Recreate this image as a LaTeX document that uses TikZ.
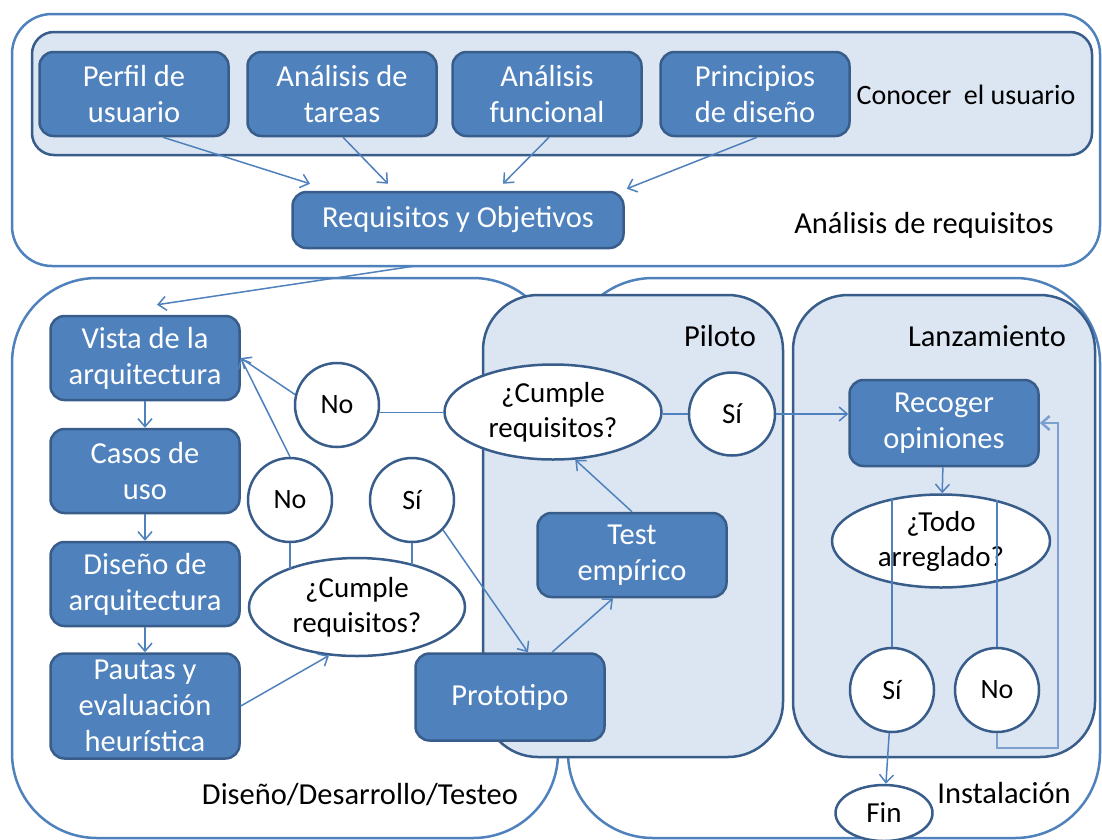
\documentclass[tikz,border=0pt]{standalone}
\usepackage{fontspec}
\setmainfont{Carlito}
\usetikzlibrary{arrows.meta,positioning,shapes.geometric}
\definecolor{boxblue}{HTML}{4F81BD}
\definecolor{boxedge}{HTML}{385D8A}
\definecolor{paleblue}{HTML}{DCE6F2}
\tikzset{
	stage/.style={draw=boxblue, line width=2.5pt, fill=white},
	phase/.style={draw=boxedge, line width=2.5pt, fill=paleblue},
	task/.style={draw=boxedge, line width=2.5pt, fill=boxblue, rounded corners=14pt, text=white, align=center, minimum width=189pt, minimum height=84pt, inner sep=1pt, font=\fontsize{30.5}{36}\selectfont},
	answer/.style={draw=boxedge, line width=2.5pt, fill=white, circle, minimum size=84pt, inner sep=0pt, font=\fontsize{28}{34}\selectfont},
	query/.style={draw=boxedge, line width=2.5pt, fill=white, ellipse, align=center, inner sep=0pt, font=\fontsize{29}{35}\selectfont},
	tag/.style={font=\fontsize{30.5}{36}\selectfont},
	link/.style={draw=boxblue, line width=1.5pt},
	arr/.style={link, -{Straight Barb[length=8pt,width=14pt]}},
}

\begin{document}
\begin{tikzpicture}[x=1pt,y=-1pt]
	\useasboundingbox (0,0) rectangle (1102,839);
	
	% etapas
	\draw[stage, rounded corners=40pt] (12,14) rectangle (1100,266);
	\draw[stage, rounded corners=85pt] (12,278) rectangle (558,838);
	\draw[stage, rounded corners=85pt] (568,278) rectangle (1100,838);
	\draw[phase, rounded corners=22pt] (32,32) rectangle (1092,155);
	\draw[phase, rounded corners=55pt] (483,295) rectangle (783,757);
	\draw[phase, rounded corners=55pt] (793,295) rectangle (1095,757);
	
	\node[tag, font=\fontsize{28}{34}\selectfont] (conocer) at (966,95) {Conocer~ el usuario};
	\node[tag] (analisis) at (924,225) {Análisis de requisitos};
	\node[tag] (piloto) at (720,336) {Piloto};
	\node[tag] (lanzamiento) at (987,336) {Lanzamiento};
	\node[tag] (desarrollo) at (360,795) {Diseño/Desarrollo/Testeo};
	\node[tag] (instalacion) at (1004,793) {Instalación};
	
	% conocer el usuario
	\node[task] (perfil) at (134,94) {Perfil de\\usuario};
	\node[task] (tareas) at (342,94) {Análisis de\\tareas};
	\node[task] (funcional) at (547,94) {Análisis\\funcional};
	\node[task] (principios) at (755,94) {Principios\\de diseño};
	\node[task, minimum width=331pt, minimum height=56pt] (requisitos) at (458,220) {Requisitos y Objetivos};
	\coordinate (salida) at (415,266);
	
	% diseño
	\node[task] (vista) at (145,358) {Vista de la\\arquitectura};
	\node[task] (casos) at (145,471) {Casos de\\uso};
	\node[task] (arquitectura) at (145,584) {Diseño de\\arquitectura};
	\node[task, minimum height=105pt] (pautas) at (145,706) {Pautas y\\evaluación\\heurística};
	\node[answer] (no1) at (337,405) {No};
	\node[answer] (no2) at (290,500) {No};
	\node[answer] (si1) at (412,500) {Sí};
	\node[query, minimum width=216pt, minimum height=98pt] (cumple1) at (357,607) {¿Cumple\\requisitos?};
	\node[task, minimum height=87pt] (prototipo) at (510,697) {Prototipo};
	
	% piloto
	\node[query, minimum width=217pt, minimum height=95pt] (cumple2) at (553,412) {¿Cumple\\requisitos?};
	\node[query, minimum width=86pt, minimum height=83pt] (si2) at (732,414) {Sí};
	\node[task] (test) at (632,555) {Test\\empírico};
	
	% lanzamiento
	\node[task, minimum height=86pt] (recoger) at (944,423) {Recoger\\opiniones};
	\node[query, minimum width=218pt, minimum height=93pt] (todo) at (941,541) {¿Todo\\arreglado?};
	\node[answer] (si3) at (892,690) {Sí};
	\node[answer] (no3) at (997,690) {No};
	\node[query, minimum width=97pt, minimum height=56pt] (fin) at (884,813) {Fin};
	\coordinate (vuelta) at (1058,748);
	
	% conectores
	\draw[arr] ([xshift=29pt]perfil.south) -- ([xshift=-148pt,yshift=7pt]requisitos.north);
	\draw[arr] ([xshift=1pt]tareas.south) -- ([xshift=-70pt,yshift=7pt]requisitos.north);
	\draw[arr] ([xshift=2pt]funcional.south) -- ([xshift=45pt,yshift=7pt]requisitos.north);
	\draw[arr] ([xshift=2pt]principios.south) -- ([xshift=2pt,yshift=2pt]requisitos.north east);
	\draw[arr] (salida) -- ([xshift=12pt,yshift=10pt]vista.north);
	
	\draw[arr] (vista) -- (casos);
	\draw[arr] (casos) -- (arquitectura);
	\draw[arr] (arquitectura) -- (pautas);
	\draw[arr] (pautas.east) -- (cumple1.240);
	\draw[link] (no2.south) -- (no2.south |- cumple1.152);
	\draw[link] (si1.south) -- (si1.south |- cumple1.34);
	\draw[arr] (no2.north) -- (vista.east);
	\draw[arr] (no1.166) -- (vista.east);
	\draw[link] (no1.-10) -- (no1.-10 -| cumple2.west);
	\draw[arr] (si1.-44) -- ([xshift=18pt]prototipo.north);
	\draw[arr] ([xshift=42pt]prototipo.north) -- ([xshift=-19pt]test.south);
	\draw[arr] (test.north) -- (cumple2.-65);
	\draw[link] (si2.west) -- (si2.west -| cumple2.east);
	\draw[arr] (si2.east) -- (si2.east -| recoger.west);
	
	\draw[arr] (recoger) -- (todo);
	\draw[link] (si3.north) -- (si3.north |- todo.139);
	\draw[link] (no3.north) -- (no3.north |- todo.36);
	\draw[arr] (si3) -- (fin);
	\draw[arr, line width=2.5pt, draw=boxblue!75] (no3.south) |- (vuelta) |- (recoger.east);
\end{tikzpicture}
\end{document}
